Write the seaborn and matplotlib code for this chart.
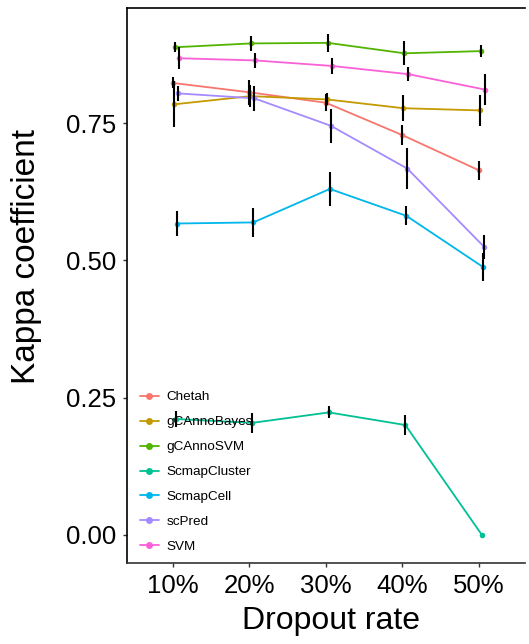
import numpy as np
import pandas as pd
import seaborn as sns
import matplotlib
matplotlib.use("Agg")
from matplotlib import pyplot as plt

# 数据
rates = ["10%", "20%", "30%", "40%", "50%"]
methods = ["Chetah", "gCAnnoBayes", "gCAnnoSVM", "ScmapCluster", "ScmapCell", "scPred", "SVM"]
colors = ["#F8766D", "#C49A00", "#53B400", "#00C094", "#00B6EB", "#A58AFF", "#FB61D7"]

chetah = [0.823, 0.806, 0.787, 0.728, 0.664]
chetah_sd = [0.010, 0.023, 0.015, 0.018, 0.017]
gcanno_bayes = [0.784, 0.799, 0.793, 0.777, 0.773]
gcanno_bayes_sd = [0.042, 0.020, 0.011, 0.024, 0.028]
gcanno_svm = [0.888, 0.895, 0.896, 0.877, 0.881]
gcanno_svm_sd = [0.009, 0.014, 0.017, 0.022, 0.011]
scmap_cluster = [0.211, 0.204, 0.223, 0.200, 0.000]
scmap_cluster_sd = [0.015, 0.018, 0.011, 0.018, 0.000]
scmap_cell = [0.567, 0.569, 0.630, 0.581, 0.488]
scmap_cell_sd = [0.022, 0.027, 0.031, 0.017, 0.025]
scpred = [0.804, 0.795, 0.745, 0.667, 0.525]
scpred_sd = [0.014, 0.023, 0.031, 0.038, 0.022]
svm = [0.868, 0.864, 0.854, 0.839, 0.811]
svm_sd = [0.020, 0.014, 0.015, 0.013, 0.029]

means = [chetah, gcanno_bayes, gcanno_svm, scmap_cluster, scmap_cell, scpred, svm]
sds = [chetah_sd, gcanno_bayes_sd, gcanno_svm_sd, scmap_cluster_sd, scmap_cell_sd, scpred_sd, svm_sd]

rows = []
for i, m in enumerate(methods):
    for j, r in enumerate(rates):
        rows.append({"method": m, "rate": r, "pos": j + i * 0.013,
                     "kappa": means[i][j], "sd": sds[i][j]})
df = pd.DataFrame(rows)

sns.set_style("white")
plt.rcParams['font.family'] = ['Liberation Sans', 'DejaVu Sans']
plt.rcParams['text.color'] = 'black'
plt.rcParams['axes.labelcolor'] = 'black'

fig = plt.figure(figsize=(5.29, 6.44), dpi=100)
ax = fig.add_axes([0.240, 0.126, 0.752, 0.862])

sns.lineplot(data=df, x="pos", y="kappa", hue="method", hue_order=methods,
             palette=colors, marker="o", markersize=4, markeredgewidth=0,
             linewidth=1.3, ax=ax)

# 误差线
for m in methods:
    d = df[df["method"] == m]
    d = d[d["sd"] > 0]
    ax.vlines(d["pos"], d["kappa"] - d["sd"], d["kappa"] + d["sd"],
              color="black", linewidth=1.5, zorder=4)

leg = ax.get_legend()
handles = leg.legend_handles
labels = [t.get_text() for t in leg.get_texts()]
for h in handles:
    h.set_marker("o")
    h.set_markersize(5)
    h.set_markeredgewidth(0)
ax.legend(handles, labels, loc="lower left", bbox_to_anchor=(0.012, 0.003),
          frameon=False, fontsize=9.7, labelspacing=0.93, handlelength=1.4,
          handletextpad=0.6, borderaxespad=0.2, labelcolor="black")

ax.set_xlim(-0.6, 4.6)
ax.set_ylim(-0.051, 0.96)
ax.set_xticks(range(len(rates)))
ax.set_xticklabels(rates)
ax.set_yticks([0, 0.25, 0.5, 0.75])
ax.set_yticklabels(["0.00", "0.25", "0.50", "0.75"])
ax.tick_params(axis="both", labelsize=18.5, colors="#333333", labelcolor="black",
               length=3, width=1, direction="out", pad=5, left=True, bottom=True)
ax.set_xlabel("Dropout rate", fontsize=23)
ax.set_ylabel("Kappa coefficient", fontsize=24)
ax.xaxis.set_label_coords(0.514, -0.078)
ax.yaxis.set_label_coords(-0.214, 0.551)

for s in ["left", "top"]:
    ax.spines[s].set_color("black")
    ax.spines[s].set_linewidth(1.2)
ax.spines["bottom"].set_color("#333333")
ax.spines["bottom"].set_linewidth(1.2)
ax.spines["right"].set_visible(False)

fig.savefig("out.png", dpi=100)
